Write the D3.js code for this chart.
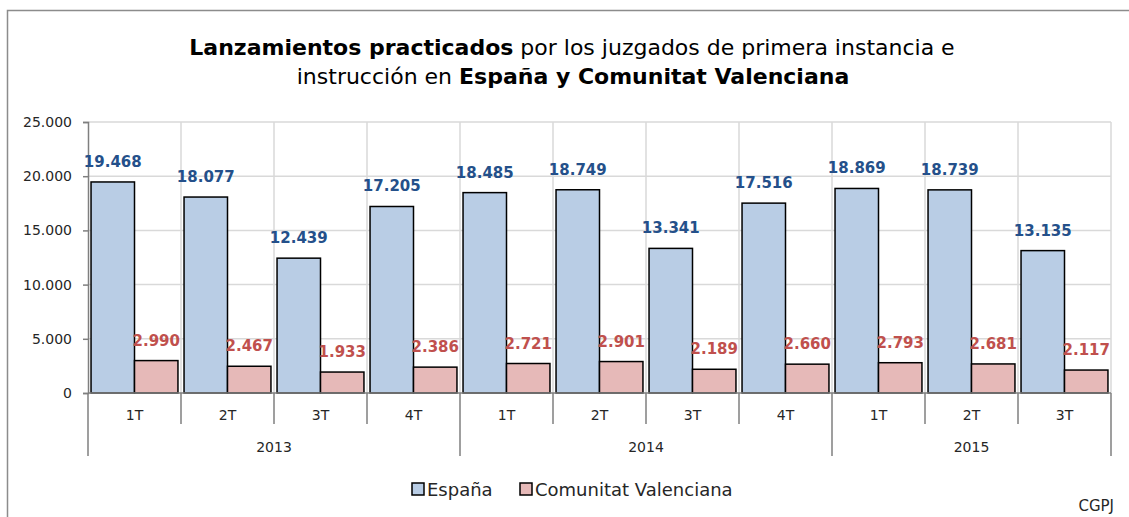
<!DOCTYPE html>
<html>
<head>
<meta charset="utf-8">
<script src="https://cdn.jsdelivr.net/npm/d3@7"></script>
<style>
  body { margin: 0; background: #fff; }
  text { font-family: "DejaVu Sans", sans-serif; }
</style>
</head>
<body>
<div id="chart"></div>
<script>
// data
var quarters = ["1T","2T","3T","4T","1T","2T","3T","4T","1T","2T","3T"];
var years = ["2013","2014","2015"];
var yearOf = ["2013","2013","2013","2013","2014","2014","2014","2014","2015","2015","2015"];
var espana = [19468, 18077, 12439, 17205, 18485, 18749, 13341, 17516, 18869, 18739, 13135];
var valencia = [2990, 2467, 1933, 2386, 2721, 2901, 2189, 2660, 2793, 2681, 2117];
var yTicks = [0, 5000, 10000, 15000, 20000, 25000];
var seriesNames = ["España", "Comunitat Valenciana"];

var W = 1129, H = 517;
var margin = {top: 122, right: 18, bottom: 124, left: 88},
    width = W - margin.left - margin.right,
    height = H - margin.top - margin.bottom;

var es = d3.formatLocale({decimal: ",", thousands: ".", grouping: [3], currency: ["", ""]});
var fmt = es.format(",d");

var svg = d3.select("#chart").append("svg")
    .attr("width", W)
    .attr("height", H);

// frame
svg.append("path")
    .attr("d", "M7.5," + H + "V10.5H" + W)
    .attr("fill", "none")
    .attr("stroke", "#8c8c8c")
    .attr("stroke-width", 1.5);

// title
var title = svg.append("text")
    .attr("x", 572).attr("y", 55)
    .attr("text-anchor", "middle")
    .style("font-size", "22px")
    .attr("fill", "#000");
title.append("tspan").attr("font-weight", "bold").text("Lanzamientos practicados");
title.append("tspan").text(" por los juzgados de primera instancia e");

var title2 = svg.append("text")
    .attr("x", 573).attr("y", 84)
    .attr("text-anchor", "middle")
    .style("font-size", "22px")
    .attr("fill", "#000");
title2.append("tspan").text("instrucción en ");
title2.append("tspan").attr("font-weight", "bold").text("España y Comunitat Valenciana");

var g = svg.append("g")
    .attr("transform", "translate(" + margin.left + "," + margin.top + ")");

var idx = d3.range(quarters.length);
var x0 = d3.scaleBand().domain(idx).range([0, width]).paddingInner(0).paddingOuter(0);
var x1 = d3.scaleBand().domain([0, 1]).range([0, x0.bandwidth()]).paddingOuter(0.07);
var y = d3.scaleLinear().domain([0, 25000]).range([height, 0]);

// horizontal grid
g.append("g").selectAll("line")
  .data(yTicks.slice(1))
  .join("line")
    .attr("x1", 0).attr("x2", width)
    .attr("y1", d => y(d)).attr("y2", d => y(d))
    .attr("stroke", "#d9d9d9").attr("stroke-width", 1.5);

// vertical grid
g.append("g").selectAll("line")
  .data(idx.slice(1).concat([quarters.length]))
  .join("line")
    .attr("x1", d => d * x0.bandwidth()).attr("x2", d => d * x0.bandwidth())
    .attr("y1", 0).attr("y2", height)
    .attr("stroke", "#d9d9d9").attr("stroke-width", 1.5);

// y axis
var yAxis = g.append("g")
    .call(d3.axisLeft(y).tickValues(yTicks).tickFormat(fmt).tickSize(5).tickPadding(11));
yAxis.select(".domain").attr("stroke", "#7f7f7f").attr("stroke-width", 1.5);
yAxis.selectAll(".tick line").attr("stroke", "#7f7f7f").attr("stroke-width", 1.5);
yAxis.selectAll(".tick text")
    .style("font-size", "14px").attr("fill", "#262626")
    .style("font-family", "DejaVu Sans, sans-serif");

// bars
var series = [espana, valencia];
var fills = ["#b9cde5", "#e6b9b8"];
var labelColors = ["#24508a", "#c0504d"];

series.forEach(function(vals, s) {
  g.append("g").selectAll("rect")
    .data(vals)
    .join("rect")
      .attr("x", (d, i) => x0(i) + x1(s))
      .attr("y", d => y(d))
      .attr("width", x1.bandwidth())
      .attr("height", d => height - y(d))
      .attr("fill", fills[s])
      .attr("stroke", "#000")
      .attr("stroke-width", 1.5);

  g.append("g").selectAll("text")
    .data(vals)
    .join("text")
      .attr("x", (d, i) => x0(i) + x1(s) + x1.bandwidth() / 2)
      .attr("y", d => y(d) - 15)
      .attr("text-anchor", "middle")
      .attr("fill", labelColors[s])
      .attr("font-weight", "bold")
      .style("font-size", "15px")
      .text(d => fmt(d));
});

// x axis: zero line
g.append("line")
    .attr("x1", 0).attr("x2", width)
    .attr("y1", height).attr("y2", height)
    .attr("stroke", "#7f7f7f").attr("stroke-width", 1.5);

// category separators
var sepTicks = idx.concat([quarters.length]);
g.append("g").selectAll("line")
  .data(sepTicks)
  .join("line")
    .attr("x1", d => d * x0.bandwidth()).attr("x2", d => d * x0.bandwidth())
    .attr("y1", height)
    .attr("y2", d => (d === 0 || d === quarters.length || yearOf[d] !== yearOf[d - 1]) ? height + 63 : height + 31)
    .attr("stroke", "#7f7f7f").attr("stroke-width", 1.5);

g.append("g").selectAll("text")
  .data(quarters)
  .join("text")
    .attr("x", (d, i) => x0(i) + x0.bandwidth() / 2)
    .attr("y", height + 27)
    .attr("text-anchor", "middle")
    .style("font-size", "14px")
    .attr("fill", "#262626")
    .text(d => d);

g.append("g").selectAll("text")
  .data(years)
  .join("text")
    .attr("x", function(yr) {
      var first = yearOf.indexOf(yr), last = yearOf.lastIndexOf(yr);
      return (x0(first) + x0(last) + x0.bandwidth()) / 2;
    })
    .attr("y", height + 59)
    .attr("text-anchor", "middle")
    .style("font-size", "14px")
    .attr("fill", "#262626")
    .text(d => d);

// legend
var legX = [412, 520];
seriesNames.forEach(function(name, s) {
  svg.append("rect")
      .attr("x", legX[s]).attr("y", 483)
      .attr("width", 12).attr("height", 12)
      .attr("fill", fills[s]).attr("stroke", "#000").attr("stroke-width", 1.5);
  svg.append("text")
      .attr("x", legX[s] + 15).attr("y", 496)
      .style("font-size", "18px")
      .attr("fill", "#262626")
      .text(name);
});

// source
svg.append("text")
    .attr("x", 1114).attr("y", 511)
    .attr("text-anchor", "end")
    .style("font-size", "15px")
    .attr("fill", "#262626")
    .text("CGPJ");
</script>
</body>
</html>
